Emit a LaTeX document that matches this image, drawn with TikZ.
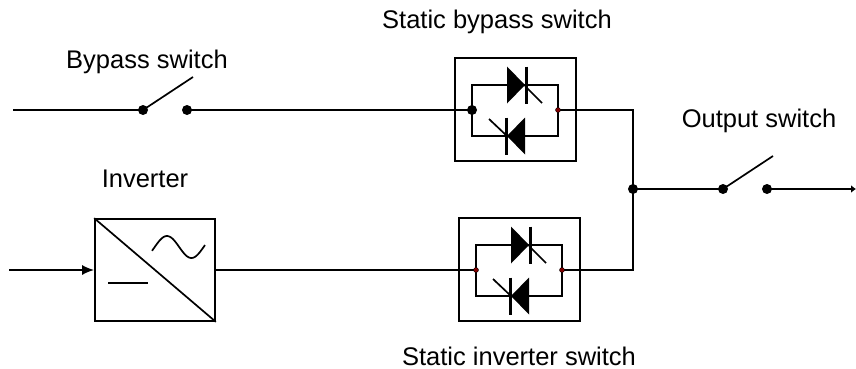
\documentclass[tikz,border=0pt]{standalone}
\usepackage{fontspec}
\setmainfont{Liberation Sans}
\usetikzlibrary{arrows.meta}
\definecolor{dotred}{RGB}{128,0,0}

\tikzset{
  wire/.style={line width=1.7pt},
  contact/.style={circle, fill=black, inner sep=0pt, minimum size=10pt},
  tap/.style={circle, fill=dotred, draw=black, line width=0.4pt, inner sep=0pt, minimum size=5pt},
  lbl/.style={font=\fontsize{25.5}{30}\selectfont, anchor=base, inner sep=0pt},
  statsw/.pic={
    \draw[wire] (-17,-52) rectangle (104,51);
    \draw[wire] (0,-25) rectangle (86,26);
    % forward thyristor
    \fill (35,-43.5) -- (35,-6.5) -- (53,-25) -- cycle;
    \draw[line width=3pt] (54,-43.5) -- (54,-6.5);
    \draw[wire] (53,-24) -- (70,-7);
    % reverse thyristor
    \fill (53,7.5) -- (53,44.5) -- (35,26) -- cycle;
    \draw[line width=3pt] (34,7.5) -- (34,44.5);
    \draw[wire] (35,26) -- (17,9);
    \coordinate (-in) at (0,0);
    \coordinate (-out) at (86,0);
  }
}

\begin{document}
\begin{tikzpicture}[x=1pt,y=-1pt]
  \useasboundingbox (0,0) rectangle (856,369);

  % labels
  \node[lbl] (bpslbl) at (147,68) {Bypass switch};
  \node[lbl] (sbslbl) at (497,29) {Static bypass switch};
  \node[lbl] (invlbl) at (145,187) {Inverter};
  \node[lbl] (outlbl) at (759,127) {Output switch};
  \node[lbl] (sislbl) at (519,365) {Static inverter switch};

  % static switches
  \pic (sbs) at (472,110) {statsw};
  \pic (sis) at (476,270) {statsw};

  % inverter
  \node[draw, wire, minimum width=120pt, minimum height=102pt, inner sep=0pt] (inv) at (155,270) {};
  \draw[wire] (inv.north west) -- (inv.south east);
  \draw[wire, shift={(inv.center)}] plot[domain=-20:370, samples=50, smooth]
    ({-3+(\x+20)/390*53}, {-23-11*sin(\x)});
  \draw[wire] ([shift={(-47,13)}]inv.center) -- ([shift={(-7,13)}]inv.center);

  % switches
  \node[contact] (bpsA) at (143,110) {};
  \node[contact] (bpsB) at (187,110) {};
  \coordinate (bpsT) at (193,77);
  \node[contact] (jn) at (633,189) {};
  \node[contact] (outA) at (723,189) {};
  \node[contact] (outB) at (767,189) {};
  \coordinate (outT) at (773,156);
  \coordinate (bpsS) at (13,110);
  \coordinate (inS) at (9,270);
  \coordinate (outE) at (856,189);

  % wiring
  \draw[wire] (bpsS) -- (bpsA.center) -- (bpsT);
  \draw[wire] (bpsB.center) -- (sbs-in);
  \draw[wire, -{Latex[length=12pt,width=10pt]}] (inS) -- (inv.west);
  \draw[wire] (inv.east) -- (sis-in);
  \draw[wire] (sbs-out) -| (jn.center) |- (sis-out);
  \draw[wire] (jn.center) -- (outA.center) -- (outT);
  \draw[wire, -{Latex[length=5pt,width=8pt]}] (outB.center) -- (outE);

  % junction dots on top
  \fill (sbs-in) circle (5);
  \foreach \p in {sbs-out, sis-in, sis-out}
    \node[tap] at (\p) {};
\end{tikzpicture}
\end{document}
